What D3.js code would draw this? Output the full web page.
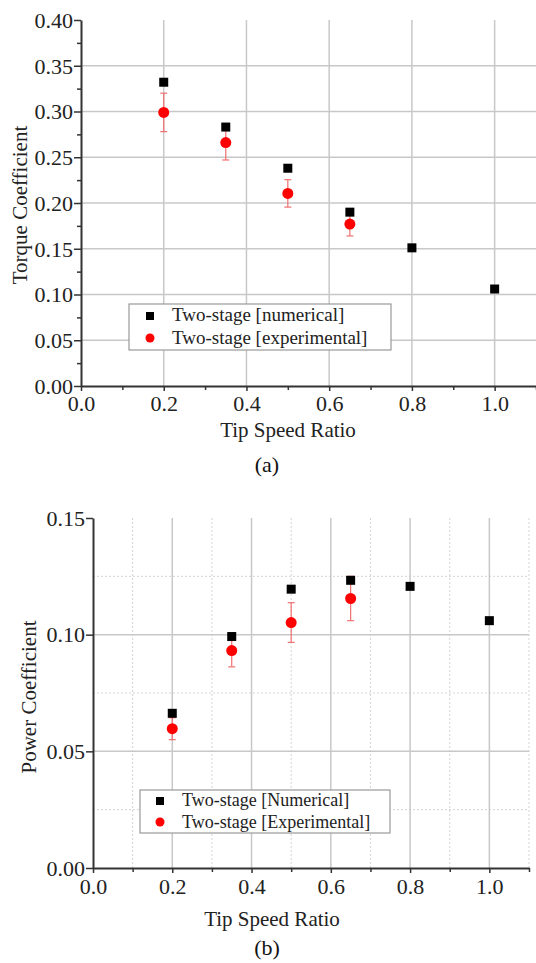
<!DOCTYPE html>
<html>
<head>
<meta charset="utf-8">
<script src="https://cdn.jsdelivr.net/npm/d3@7"></script>
<style>
  body { margin: 0; background: #fff; }
  svg { display: block; font-family: "Liberation Serif", "Times New Roman", serif; }
</style>
</head>
<body>
<div id="chart"></div>
<script>
// Tip speed ratios
const tsrNum = [0.2, 0.35, 0.5, 0.65, 0.8, 1.0];
const tsrExp = [0.2, 0.35, 0.5, 0.65];

// (a) Torque coefficient
const cqNum = [0.332, 0.283, 0.238, 0.190, 0.151, 0.106];
const cqExp = [0.299, 0.266, 0.2105, 0.177];
const cqErr = [0.021, 0.019, 0.015, 0.013];

// (b) Power coefficient
const cpNum = [0.0663, 0.0992, 0.1195, 0.1233, 0.1207, 0.106];
const cpExp = [0.0597, 0.0932, 0.1052, 0.1155];
const cpErr = [0.0047, 0.007, 0.0085, 0.0095];

const xTicks = [0.0, 0.2, 0.4, 0.6, 0.8, 1.0];
const cqTicks = [0.00, 0.05, 0.10, 0.15, 0.20, 0.25, 0.30, 0.35, 0.40];
const cpTicks = [0.00, 0.05, 0.10, 0.15];

const svg = d3.select("#chart").append("svg")
    .attr("width", 536)
    .attr("height", 963);

function drawPanel(p) {
    const x = d3.scaleLinear().domain([0, 1.1]).range([p.left, p.right]);
    const y = d3.scaleLinear().domain([0, p.yMax]).range([p.bottom, p.top]);
    const g = svg.append("g");

    // grille mineure (pointillés) si demandée
    if (p.minorGrid) {
        g.selectAll(".gxm").data(d3.range(0.1, 1.11, 0.2)).enter().append("line")
            .attr("x1", d => x(d)).attr("x2", d => x(d))
            .attr("y1", p.bottom).attr("y2", p.top)
            .attr("stroke", "#d4d4d4").attr("stroke-width", 1).attr("stroke-dasharray", "2,2");
        g.selectAll(".gym").data(p.yMinor).enter().append("line")
            .attr("x1", p.left).attr("x2", p.right)
            .attr("y1", d => y(d)).attr("y2", d => y(d))
            .attr("stroke", "#d4d4d4").attr("stroke-width", 1).attr("stroke-dasharray", "2,2");
    }

    // grille majeure
    g.selectAll(".gx").data(xTicks.slice(1)).enter().append("line")
        .attr("x1", d => x(d)).attr("x2", d => x(d))
        .attr("y1", p.bottom).attr("y2", p.top)
        .attr("stroke", "#c8c8c8").attr("stroke-width", 1.5);
    g.selectAll(".gy").data(p.yTicks.slice(1, -1)).enter().append("line")
        .attr("x1", p.left).attr("x2", p.right)
        .attr("y1", d => y(d)).attr("y2", d => y(d))
        .attr("stroke", "#c8c8c8").attr("stroke-width", 1.5);

    // axes
    const xAxis = d3.axisBottom(x).tickValues(xTicks).tickFormat(d3.format(".1f"))
        .tickSize(5).tickSizeOuter(0);
    const xMinor = d3.axisBottom(x).tickValues(d3.range(0.1, 1.11, 0.2)).tickFormat("")
        .tickSize(4).tickSizeOuter(0);
    const yAxis = d3.axisLeft(y).tickValues(p.yTicks).tickFormat(d3.format(".2f"))
        .tickSize(7).tickSizeOuter(0);

    const gx = g.append("g").attr("transform", `translate(0,${p.bottom})`).call(xAxis);
    g.append("g").attr("transform", `translate(0,${p.bottom})`).call(xMinor)
        .select(".domain").remove();
    const gy = g.append("g").attr("transform", `translate(${p.left},0)`).call(yAxis);
    if (p.yMinor && p.yMinorTicks) {
        g.append("g").attr("transform", `translate(${p.left},0)`)
            .call(d3.axisLeft(y).tickValues(p.yMinor).tickFormat("").tickSize(4).tickSizeOuter(0))
            .select(".domain").remove();
    }

    g.selectAll(".domain").attr("stroke", "#333").attr("stroke-width", 2);
    g.selectAll(".tick line").attr("stroke", "#333").attr("stroke-width", 1.5);
    gx.selectAll(".tick text").attr("font-size", 22).attr("fill", "#222")
        .attr("font-family", "Liberation Serif").attr("dy", p.xLabelDy);
    gy.selectAll(".tick text").attr("font-size", 22).attr("fill", "#222")
        .attr("font-family", "Liberation Serif").attr("x", -8).attr("dy", "0.33em");

    // barres d'erreur
    const eb = g.append("g").attr("stroke", "#f07070").attr("stroke-width", 1.2);
    tsrExp.forEach((t, i) => {
        const lo = y(p.exp[i] - p.err[i]), hi = y(p.exp[i] + p.err[i]);
        eb.append("line").attr("x1", x(t)).attr("x2", x(t)).attr("y1", lo).attr("y2", hi);
        eb.append("line").attr("x1", x(t) - 3.5).attr("x2", x(t) + 3.5).attr("y1", lo).attr("y2", lo);
        eb.append("line").attr("x1", x(t) - 3.5).attr("x2", x(t) + 3.5).attr("y1", hi).attr("y2", hi);
    });

    // points numériques (carrés noirs)
    g.selectAll(".sq").data(tsrNum).enter().append("rect")
        .attr("x", (d, i) => x(d) - 4.5)
        .attr("y", (d, i) => y(p.num[i]) - 4.5)
        .attr("width", 9).attr("height", 9)
        .attr("fill", "#000");

    // points expérimentaux (cercles rouges)
    g.selectAll(".ci").data(tsrExp).enter().append("circle")
        .attr("cx", d => x(d))
        .attr("cy", (d, i) => y(p.exp[i]))
        .attr("r", 5.5)
        .attr("fill", "#ff0000");

    // légende
    const lg = g.append("g");
    lg.append("rect")
        .attr("x", p.legend.x).attr("y", p.legend.y)
        .attr("width", p.legend.w).attr("height", p.legend.h)
        .attr("fill", "#fff").attr("stroke", "#999").attr("stroke-width", 1.2);
    lg.append("rect")
        .attr("x", p.legend.mx - 4).attr("y", p.legend.b1 - 9)
        .attr("width", 8).attr("height", 8).attr("fill", "#000");
    lg.append("circle")
        .attr("cx", p.legend.mx).attr("cy", p.legend.b2 - 6)
        .attr("r", 4.5).attr("fill", "#ff0000");
    lg.append("text").attr("x", p.legend.tx).attr("y", p.legend.b1)
        .attr("font-size", p.legend.fs).attr("fill", "#222").text(p.labels[0]);
    lg.append("text").attr("x", p.legend.tx).attr("y", p.legend.b2)
        .attr("font-size", p.legend.fs).attr("fill", "#222").text(p.labels[1]);

    // titres des axes
    g.append("text")
        .attr("x", p.xTitle[0]).attr("y", p.xTitle[1])
        .attr("text-anchor", "middle").attr("font-size", 21).attr("fill", "#222")
        .text("Tip Speed Ratio");
    g.append("text")
        .attr("transform", `translate(${p.yTitle[0]},${p.yTitle[1]}) rotate(-90)`)
        .attr("text-anchor", "middle").attr("font-size", 21).attr("fill", "#222")
        .text(p.yLabel);
    g.append("text")
        .attr("x", p.tag[0]).attr("y", p.tag[1])
        .attr("text-anchor", "middle").attr("font-size", 22).attr("fill", "#111")
        .text(p.tagText);
}

drawPanel({
    left: 81, right: 536, top: 20, bottom: 386, yMax: 0.40,
    yTicks: cqTicks, yMinor: d3.range(0.025, 0.40, 0.05), yMinorTicks: true, minorGrid: false,
    num: cqNum, exp: cqExp, err: cqErr,
    xLabelDy: "0.78em",
    legend: { x: 129, y: 304, w: 262, h: 46, mx: 150, tx: 172, b1: 321, b2: 344, fs: 19 },
    labels: ["Two-stage [numerical]", "Two-stage [experimental]"],
    xTitle: [288, 437], yTitle: [27, 205], yLabel: "Torque Coefficient",
    tag: [267, 472], tagText: "(a)"
});

drawPanel({
    left: 93, right: 529, top: 518, bottom: 868, yMax: 0.15,
    yTicks: cpTicks, yMinor: [0.025, 0.075, 0.125], yMinorTicks: false, minorGrid: true,
    num: cpNum, exp: cpExp, err: cpErr,
    xLabelDy: "0.82em",
    legend: { x: 140, y: 790, w: 250, h: 43, mx: 160, tx: 182, b1: 806, b2: 828, fs: 18 },
    labels: ["Two-stage [Numerical]", "Two-stage [Experimental]"],
    xTitle: [272, 926], yTitle: [36, 697], yLabel: "Power Coefficient",
    tag: [267, 955], tagText: "(b)"
});
</script>
</body>
</html>
